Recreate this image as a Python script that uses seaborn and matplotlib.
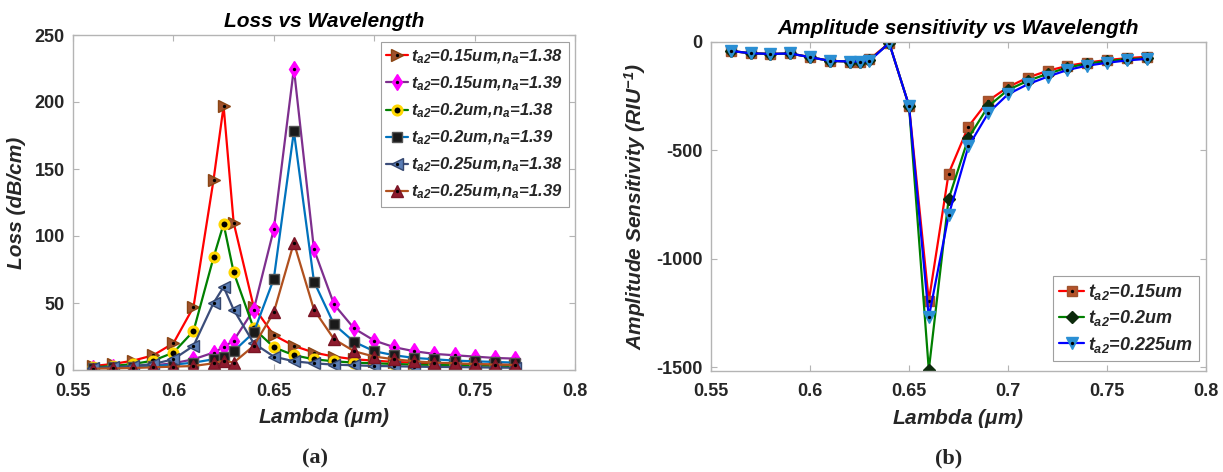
import numpy as np
import pandas as pd
import matplotlib
matplotlib.use("Agg")
import matplotlib.pyplot as plt
from matplotlib.legend_handler import HandlerTuple
import seaborn as sns

# ---------------- data ----------------
wavelength = [0.56, 0.57, 0.58, 0.59, 0.60, 0.61, 0.62, 0.625, 0.63, 0.64, 0.65, 0.66,
              0.67, 0.68, 0.69, 0.70, 0.71, 0.72, 0.73, 0.74, 0.75, 0.76, 0.77]

# (a) Loss (dB/cm)
loss_015_138 = [3, 4.5, 7, 11, 20, 47, 142, 197, 110, 47, 26, 18, 13, 10, 8, 7, 6, 5.5, 5, 4.5, 4.2, 4, 3.8]
loss_015_139 = [1.5, 2, 2.5, 3.5, 5, 8, 13, 17, 22, 45, 105, 225, 90, 49, 31, 22, 17, 14, 12, 11, 10, 9, 8.5]
loss_020_138 = [2, 3, 4.5, 7, 13, 29, 84, 109, 73, 31, 17, 11, 8, 6.5, 5.5, 5, 4.5, 4, 3.8, 3.5, 3.3, 3.2, 3]
loss_020_139 = [1.5, 2, 2.5, 3, 4, 5.5, 8, 10, 14, 28, 68, 178, 66, 34, 21, 14, 11, 9, 8, 7, 6.5, 6, 5.5]
loss_025_138 = [1.5, 2, 3, 4.5, 8, 18, 50, 62, 45, 20, 10, 6.5, 5, 4, 3.5, 3, 2.8, 2.5, 2.3, 2.2, 2, 1.8, 1.7]
loss_025_139 = [1, 1.2, 1.5, 2, 2.5, 3, 5, 7, 5.5, 18, 43, 95, 45, 23, 14, 10, 8, 6.5, 5.5, 5, 4.5, 4, 3.8]

loss_labels = [r"$t_{a2}$=0.15um,$n_a$=1.38", r"$t_{a2}$=0.15um,$n_a$=1.39",
               r"$t_{a2}$=0.2um,$n_a$=1.38", r"$t_{a2}$=0.2um,$n_a$=1.39",
               r"$t_{a2}$=0.25um,$n_a$=1.38", r"$t_{a2}$=0.25um,$n_a$=1.39"]

# (b) Amplitude sensitivity (RIU^-1)
sens_015 = [-41, -52, -55, -53, -70, -87, -90, -90, -80, -5, -294, -1195,
            -607, -390, -271, -208, -164, -133, -110, -95, -83, -75, -68]
sens_020 = [-41, -52, -55, -53, -70, -87, -90, -90, -85, -5, -294, -1513,
            -725, -443, -297, -221, -179, -147, -118, -100, -88, -80, -75]
sens_0225 = [-41, -52, -55, -53, -70, -87, -90, -90, -87, -5, -294, -1270,
             -800, -482, -328, -241, -195, -160, -129, -109, -96, -85, -78]
sens_labels = [r"$t_{a2}$=0.15um", r"$t_{a2}$=0.2um", r"$t_{a2}$=0.225um"]

x_ticks = [0.55, 0.6, 0.65, 0.7, 0.75, 0.8]
x_ticklabels = ["0.55", "0.6", "0.65", "0.7", "0.75", "0.8"]
loss_yticks = [0, 50, 100, 150, 200, 250]
sens_yticks = [-1500, -1000, -500, 0]

# ---------------- style ----------------
sns.set_style("white")
plt.rcParams["font.family"] = ["Liberation Sans", "DejaVu Sans"]
plt.rcParams["axes.unicode_minus"] = False
plt.rcParams["mathtext.fontset"] = "custom"
plt.rcParams["mathtext.it"] = "Liberation Sans:italic:bold"
plt.rcParams["mathtext.rm"] = "Liberation Sans:italic:bold"
plt.rcParams["mathtext.bf"] = "Liberation Sans:italic:bold"
plt.rcParams["mathtext.sf"] = "Liberation Sans:italic:bold"

SPINE = "#b4b4b4"
TXT = "#262626"

fig = plt.figure(figsize=(12.23, 4.72), dpi=100)
axL = fig.add_axes([73 / 1223, 1 - 370 / 472, 502 / 1223, 335 / 472])
axR = fig.add_axes([711 / 1223, 1 - 371 / 472, 495 / 1223, 329 / 472])


def draw(ax, y, line_c, marker, mfc, mec, ms, mew=1.0, dot=True):
    sns.lineplot(x=wavelength, y=y, ax=ax, color=line_c, linewidth=1.6,
                 marker=marker, markersize=ms, markerfacecolor=mfc,
                 markeredgecolor=mec, markeredgewidth=mew,
                 estimator=None, sort=False)
    h = ax.lines[-1]
    if dot:
        sns.lineplot(x=wavelength, y=y, ax=ax, color="black", linestyle="",
                     marker="o", markersize=2.4, markeredgewidth=0,
                     markerfacecolor="black", estimator=None, sort=False)
        return (h, ax.lines[-1])
    return (h,)


# ---- (a) ----
handlesL = [
    draw(axL, loss_015_138, "#ff0000", ">", "#a0522d", "#8b4513", 8),
    draw(axL, loss_015_139, "#7e2f8e", "d", "#ff00ff", "#ff00ff", 8),
    draw(axL, loss_020_138, "#008000", "o", "#000000", "#ffd700", 6.5, mew=2.2, dot=False),
    draw(axL, loss_020_139, "#0072bd", "s", "#1a1a1a", "#555555", 6.5, dot=False),
    draw(axL, loss_025_138, "#3b4d7a", "<", "#5a7db5", "#34466e", 8),
    draw(axL, loss_025_139, "#b0501e", "^", "#8e1b2e", "#7a1525", 8),
]

# ---- (b) ----
handlesR = [
    draw(axR, sens_015, "#ff0000", "s", "#b5532a", "#a0522d", 7),
    draw(axR, sens_020, "#008000", "D", "#0d2b0d", "#0d2b0d", 6, dot=False),
    draw(axR, sens_0225, "#0000ff", "v", "#2a8fd4", "#2a8fd4", 8),
]

for ax in (axL, axR):
    ax.set_xlim(0.55, 0.8)
    ax.set_xticks(x_ticks)
    ax.set_xticklabels(x_ticklabels)
    for s in ax.spines.values():
        s.set_visible(True)
        s.set_color(SPINE)
        s.set_linewidth(1.0)
    ax.tick_params(direction="in", length=4, width=0.8, color=SPINE,
                   top=True, right=True, bottom=True, left=True,
                   labelsize=13, labelcolor=TXT)
    ax.tick_params(axis="x", pad=9)
    ax.tick_params(axis="y", pad=6)
    ax.set_xlabel(r"Lambda ($\mu$m)", fontsize=15, fontweight="bold",
                  fontstyle="italic", color=TXT, labelpad=5)

axL.set_ylim(0, 250)
axL.set_yticks(loss_yticks)
axL.set_ylabel("Loss (dB/cm)", fontsize=15, fontweight="bold",
               fontstyle="italic", color=TXT, labelpad=6)
axL.set_title("Loss vs Wavelength", fontsize=15, fontweight="bold",
              fontstyle="italic", color="black", pad=6)

axR.set_ylim(-1518, 0)
axR.set_yticks(sens_yticks)
axR.set_ylabel(r"Amplitude Sensitivity (RIU$^{-1}$)", fontsize=15,
               fontweight="bold", fontstyle="italic", color=TXT, labelpad=6)
axR.set_title("Amplitude sensitivity vs Wavelength", fontsize=15,
              fontweight="bold", fontstyle="italic", color="black", pad=6)

for ax in (axL, axR):
    for lab in ax.get_xticklabels() + ax.get_yticklabels():
        lab.set_fontweight("bold")

legL = axL.legend(handles=handlesL, labels=loss_labels,
                  handler_map={tuple: HandlerTuple(ndivide=1)},
                  loc="upper right", bbox_to_anchor=(0.988, 0.98),
                  prop={"size": 12, "weight": "bold", "style": "italic"},
                  frameon=True, fancybox=False, framealpha=1, edgecolor="#a0a0a0",
                  handlelength=1.3, handletextpad=0.2, labelspacing=0.52,
                  borderpad=0.35, borderaxespad=0)
legR = axR.legend(handles=handlesR, labels=sens_labels,
                  handler_map={tuple: HandlerTuple(ndivide=1)},
                  loc="lower right", bbox_to_anchor=(0.985, 0.03),
                  prop={"size": 13, "weight": "bold", "style": "italic"},
                  frameon=True, fancybox=False, framealpha=1, edgecolor="#a0a0a0",
                  handlelength=1.4, handletextpad=0.2, labelspacing=0.35,
                  borderpad=0.35, borderaxespad=0)
for leg in (legL, legR):
    leg.get_frame().set_linewidth(0.8)

fig.text(315 / 1223, 1 - 458 / 472, "(a)", ha="center", va="center",
         family="Liberation Serif", fontweight="bold", fontsize=16)
fig.text(949 / 1223, 1 - 458 / 472, "(b)", ha="center", va="center",
         family="Liberation Serif", fontweight="bold", fontsize=16)

fig.savefig("out.png", dpi=100)
